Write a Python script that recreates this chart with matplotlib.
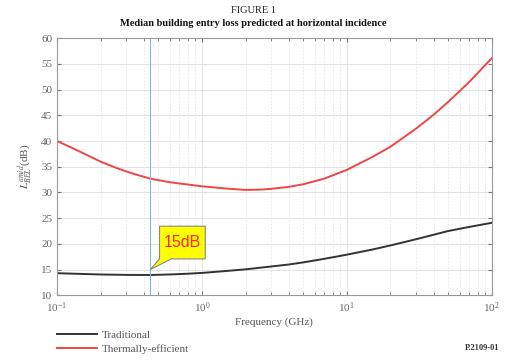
import numpy as np
import matplotlib
matplotlib.use('Agg')
import matplotlib.pyplot as plt
from matplotlib.ticker import LogLocator, NullFormatter
from matplotlib.patches import Polygon
from matplotlib.transforms import ScaledTranslation

plt.rcParams['font.family'] = ['Liberation Serif', 'DejaVu Serif']
plt.rcParams['mathtext.fontset'] = 'stix'

# values
freq_trad = [0.1, 0.15, 0.2, 0.3, 0.44, 0.6, 0.8, 1, 1.5, 2, 3, 4, 5, 7, 10,
             15, 20, 30, 40, 50, 70, 100]
traditional = [14.3, 14.15, 14.05, 13.97, 13.95, 14.05, 14.2, 14.35, 14.75, 15.05,
               15.6, 16.0, 16.4, 17.1, 17.9, 18.9, 19.7, 20.9, 21.8, 22.5, 23.3, 24.1]
freq_therm = [0.1, 0.12, 0.15, 0.2, 0.25, 0.3, 0.35, 0.44, 0.5, 0.6, 0.7, 0.8, 1,
              1.5, 2, 2.5, 3, 4, 5, 7, 10, 15, 20, 30, 40, 50, 70, 100]
thermal = [40.0, 39.0, 37.7, 36.0, 34.9, 34.1, 33.5, 32.7, 32.4, 32.0, 31.75, 31.55,
           31.2, 30.75, 30.5, 30.55, 30.7, 31.1, 31.6, 32.7, 34.4, 36.9, 38.9, 42.4,
           45.2, 47.6, 51.5, 56.1]
marker_freq = 0.44
marker_val = 15
marker_text = '15dB'
yticks = [10, 15, 20, 25, 30, 35, 40, 45, 50, 55, 60]

fig = plt.figure(figsize=(5.1, 3.61), dpi=100)
ax = fig.add_axes([0.1118, 0.182, 0.8523, 0.712])

ax.plot(freq_trad, traditional, color='#333333', lw=1.4, label='Traditional')
ax.plot(freq_therm, thermal, color='#f04545', lw=1.4, label='Thermally-efficient')
ax.axvline(marker_freq, color='#7ab8e8', lw=0.8)

ax.set_xscale('log')
ax.set_xlim(0.1, 100)
ax.set_ylim(10, 60)
ax.set_yticks(yticks)
ax.xaxis.set_minor_locator(LogLocator(base=10, subs=np.arange(2, 10)))
ax.xaxis.set_minor_formatter(NullFormatter())

ax.grid(True, which='major', color='#e3e3e3', lw=0.7)
ax.grid(True, which='minor', axis='x', color='#e6e6e6', lw=0.6, ls=(0, (2, 2)))
ax.set_axisbelow(True)

ax.tick_params(which='both', direction='in', top=True, right=True, colors='#777777',
               labelcolor='#666666', labelsize=8)
ax.tick_params(which='major', length=3)
ax.tick_params(which='minor', length=2)
for s in ax.spines.values():
    s.set_color('#999999')
    s.set_linewidth(0.8)

ax.set_xlabel('Frequency (GHz)', fontsize=8, color='#555555', labelpad=2)
ax.set_ylabel(r'$L_{BEL}^{amid}$(dB)', fontsize=8, color='#555555', labelpad=4)

# callout bubble anchored at the marker point, shape in inches
anchor = fig.dpi_scale_trans + ScaledTranslation(marker_freq, marker_val, ax.transData)
bubble = [(0, 0), (0.21, 0.107), (0.55, 0.107), (0.55, 0.434),
          (0.093, 0.434), (0.093, 0.107)]
ax.add_patch(Polygon(bubble, closed=True, transform=anchor, fc='#ffff00',
                     ec='#888888', lw=0.8, zorder=5))
ax.text(0.322, 0.27, marker_text, transform=anchor, ha='center', va='center',
        fontsize=11.5, color='#ff2020', family=['Liberation Sans'], zorder=6)

fig.text(0.497, 0.972, 'FIGURE 1', ha='center', va='center', fontsize=7.5, color='#222222')
fig.text(0.497, 0.934, 'Median building entry loss predicted at horizontal incidence',
         ha='center', va='center', fontsize=7.5, weight='bold', color='#111111')

fig.legend(loc='upper left', bbox_to_anchor=(0.1, 0.1), frameon=False, fontsize=8,
           handlelength=3.6, handletextpad=0.5, labelspacing=0.35, borderpad=0,
           labelcolor='#555555')
fig.text(0.98, 0.036, 'P.2109-01', ha='right', va='center', fontsize=6, weight='bold',
         color='#333333')

fig.savefig('out.png', dpi=100)
